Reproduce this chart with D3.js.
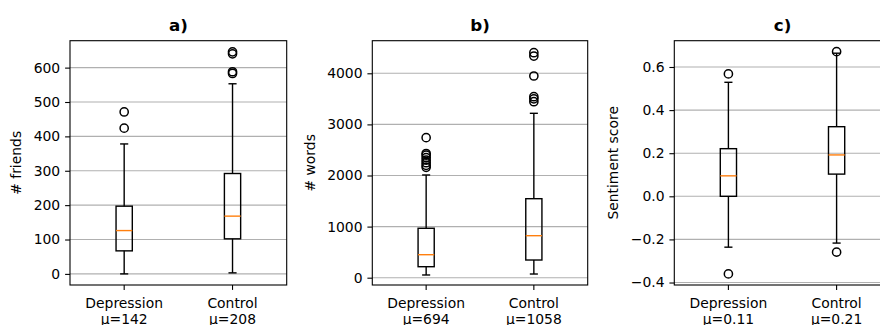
<!DOCTYPE html>
<html>
<head>
<meta charset="utf-8">
<script src="https://cdn.jsdelivr.net/npm/d3@7"></script>
<style>
  body { margin: 0; background: #fff; }
  svg { display: block; font-family: "DejaVu Sans", sans-serif; }
</style>
</head>
<body>
<svg id="chart" width="880" height="325"></svg>
<script>
// groups on the x axis
const groups = ['Depression', 'Control'];

// box stats per group: [whisker low, q1, median, q3, whisker high]
const friendsBox = [[0, 67, 126, 197, 378], [3, 102, 168, 292, 553]];
const friendsOut = [[424, 471], [583, 588, 640, 646]];
const friendsMean = ['μ=142', 'μ=208'];
const friendsTicks = [0, 100, 200, 300, 400, 500, 600];

const wordsBox = [[53, 215, 450, 967, 2010], [72, 346, 822, 1546, 3217]];
const wordsOut = [[2160, 2200, 2250, 2300, 2350, 2400, 2430, 2740], [3444, 3500, 3542, 3947, 4338, 4403]];
const wordsMean = ['μ=694', 'μ=1058'];
const wordsTicks = [0, 1000, 2000, 3000, 4000];

const sentBox = [[-0.236, 0, 0.095, 0.221, 0.529], [-0.217, 0.103, 0.192, 0.323, 0.664]];
const sentOut = [[-0.36, 0.568], [-0.259, 0.671]];
const sentMean = ['μ=0.11', 'μ=0.21'];
const sentTicks = [-0.4, -0.2, 0.0, 0.2, 0.4, 0.6];

const svg = d3.select('#chart');
const axTop = 40.7, axBottom = 285;
const fs = 13.9;

function drawPanel(opt) {
    const g = svg.append('g');
    const x = d3.scaleLinear().domain([0.5, 2.5]).range([opt.left, opt.right]);
    const y = d3.scaleLinear().domain(opt.domain).range([axBottom, axTop]);

    // grid
    g.selectAll('.grid')
        .data(opt.ticks)
        .enter()
        .append('line')
        .attr('x1', opt.left)
        .attr('x2', opt.right)
        .attr('y1', d => y(d))
        .attr('y2', d => y(d))
        .attr('stroke', '#b0b0b0')
        .attr('stroke-width', 1.1)

    const bw = (x(1.15) - x(1)) / 2;
    const cw = bw / 2;

    opt.box.forEach((b, i) => {
        const cx = x(i + 1);
        const bx = g.append('g')
            .attr('fill', 'none')
            .attr('stroke', '#000')
            .attr('stroke-width', 1.4);
        // whiskers
        bx.append('line').attr('x1', cx).attr('x2', cx).attr('y1', y(b[0])).attr('y2', y(b[1]));
        bx.append('line').attr('x1', cx).attr('x2', cx).attr('y1', y(b[3])).attr('y2', y(b[4]));
        // caps
        bx.append('line').attr('x1', cx - cw).attr('x2', cx + cw).attr('y1', y(b[0])).attr('y2', y(b[0]));
        bx.append('line').attr('x1', cx - cw).attr('x2', cx + cw).attr('y1', y(b[4])).attr('y2', y(b[4]));
        // box
        bx.append('rect')
            .attr('x', cx - bw)
            .attr('y', y(b[3]))
            .attr('width', bw * 2)
            .attr('height', y(b[1]) - y(b[3]));
        // median
        g.append('line')
            .attr('x1', cx - bw).attr('x2', cx + bw)
            .attr('y1', y(b[2])).attr('y2', y(b[2]))
            .attr('stroke', '#ff7f0e')
            .attr('stroke-width', 1.4);
        // fliers
        g.selectAll('.fl' + i)
            .data(opt.out[i])
            .enter()
            .append('circle')
            .attr('cx', cx)
            .attr('cy', d => y(d))
            .attr('r', 4.1)
            .attr('fill', 'none')
            .attr('stroke', '#000')
            .attr('stroke-width', 1.5);
    });

    // frame
    g.append('rect')
        .attr('x', opt.left)
        .attr('y', axTop)
        .attr('width', opt.right - opt.left)
        .attr('height', axBottom - axTop)
        .attr('fill', 'none')
        .attr('stroke', '#000')
        .attr('stroke-width', 1.1);

    // y axis
    const ya = g.append('g')
        .attr('transform', `translate(${opt.left},0)`)
        .call(d3.axisLeft(y).tickValues(opt.ticks).tickSize(4.9).tickPadding(4.9).tickFormat(opt.fmt));
    ya.select('.domain').remove();
    ya.selectAll('line').attr('stroke-width', 1.1);
    ya.selectAll('text').attr('font-size', fs).attr('font-family', 'DejaVu Sans').attr('fill', '#000');

    // x ticks
    groups.forEach((name, i) => {
        const cx = x(i + 1);
        g.append('line')
            .attr('x1', cx).attr('x2', cx)
            .attr('y1', axBottom).attr('y2', axBottom + 4.9)
            .attr('stroke', '#000')
            .attr('stroke-width', 1.1);
        const t = g.append('text')
            .attr('text-anchor', 'middle')
            .attr('font-size', fs);
        t.append('tspan').attr('x', cx).attr('y', 308).text(name);
        t.append('tspan').attr('x', cx).attr('y', 323.5).text(opt.mean[i]);
    });

    // y label
    g.append('text')
        .attr('transform', `translate(${opt.ylabX},${(axTop + axBottom) / 2}) rotate(-90)`)
        .attr('text-anchor', 'middle')
        .attr('dy', '0.35em')
        .attr('font-size', fs)
        .text(opt.ylabel);

    // title
    g.append('text')
        .attr('x', (opt.left + opt.right) / 2)
        .attr('y', 31)
        .attr('text-anchor', 'middle')
        .attr('font-size', 16.7)
        .attr('font-weight', 'bold')
        .text(opt.title);
}

drawPanel({
    left: 70, right: 286.7, domain: [-32.3, 678.3],
    box: friendsBox, out: friendsOut, mean: friendsMean, ticks: friendsTicks,
    fmt: d3.format('d'), ylabel: '# friends', ylabX: 16, title: 'a)'
});
drawPanel({
    left: 372.3, right: 587.7, domain: [-143, 4638],
    box: wordsBox, out: wordsOut, mean: wordsMean, ticks: wordsTicks,
    fmt: d3.format('d'), ylabel: '# words', ylabX: 310, title: 'b)'
});
drawPanel({
    left: 674.3, right: 890.7, domain: [-0.4115, 0.722],
    box: sentBox, out: sentOut, mean: sentMean, ticks: sentTicks,
    fmt: d3.format('.1f'), ylabel: 'Sentiment score', ylabX: 613, title: 'c)'
});
</script>
</body>
</html>
